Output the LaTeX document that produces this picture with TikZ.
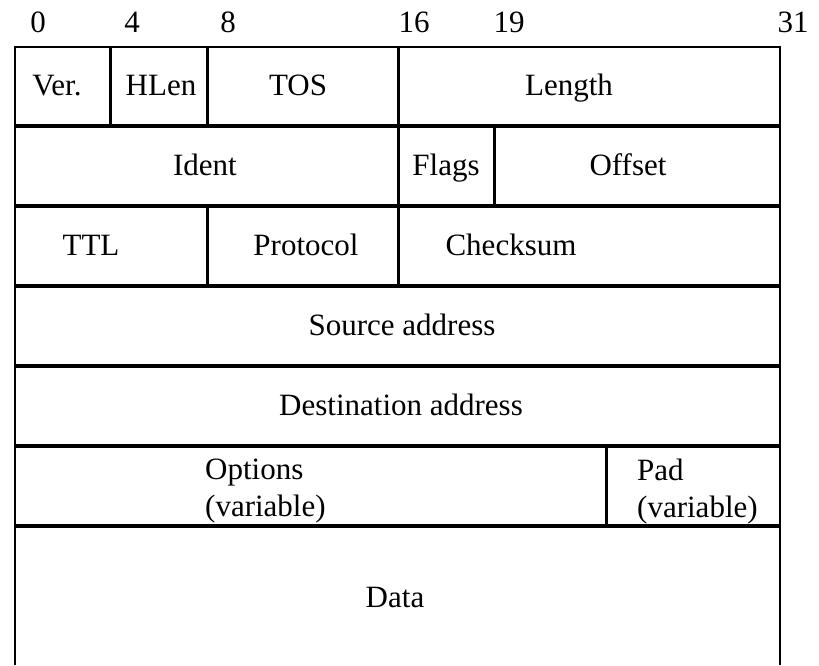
\documentclass[tikz,border=0pt]{standalone}
\usepackage{fontspec}
\setmainfont{Liberation Serif}
\begin{document}
\begin{tikzpicture}[x=1pt,y=-1pt,
  frame/.style={line width=2.5pt},
  rowsep/.style={line width=4pt},
  divider/.style={line width=3pt},
  field/.style={inner sep=0pt, font=\fontsize{31}{37}\selectfont, anchor=base},
  twoline/.style={field, anchor=base west, align=left}]
\useasboundingbox (0,0) rectangle (819,665);

% bit numbers above the header
\node[field] (b0)  at (38,32)  {0};
\node[field] (b4)  at (132,32) {4};
\node[field] (b8)  at (228,32) {8};
\node[field] (b16) at (414,32) {16};
\node[field] (b19) at (509,32) {19};
\node[field] (b31) at (793,32) {31};

% outer frame (open at the bottom)
\draw[frame] (15,665) -- (15,47) -- (780,47) -- (780,665);

% row separators
\foreach \yy in {126,206,286,366,446,526}
  \draw[rowsep] (15,\yy) -- (780,\yy);

% field dividers
\draw[divider] (110,47)  -- (110,126);
\draw[divider] (207,47)  -- (207,126);
\draw[divider] (398,47)  -- (398,126);
\draw[divider] (398,126) -- (398,206);
\draw[divider] (494,126) -- (494,206);
\draw[divider] (207,206) -- (207,286);
\draw[divider] (398,206) -- (398,286);
\draw[divider] (606,446) -- (606,526);

% field names
\node[field] (ver)      at (57,95)   {Ver.};
\node[field] (hlen)     at (161,95)  {HLen};
\node[field] (tos)      at (298,95)  {TOS};
\node[field] (length)   at (569,95)  {Length};
\node[field] (ident)    at (205,175) {Ident};
\node[field] (flags)    at (446,175) {Flags};
\node[field] (offset)   at (628,175) {Offset};
\node[field] (ttl)      at (91,255)  {TTL};
\node[field] (protocol) at (306,255) {Protocol};
\node[field] (checksum) at (511,255) {Checksum};
\node[field] (src)      at (402,335) {Source address};
\node[field] (dst)      at (401,415) {Destination address};
% two-line labels: the base anchor sits on the last line
\node[twoline] (options) at (205,516) {Options\\(variable)};
\node[twoline] (pad)     at (637,517) {Pad\\(variable)};
\node[field] (data)     at (395,607) {Data};
\end{tikzpicture}
\end{document}
